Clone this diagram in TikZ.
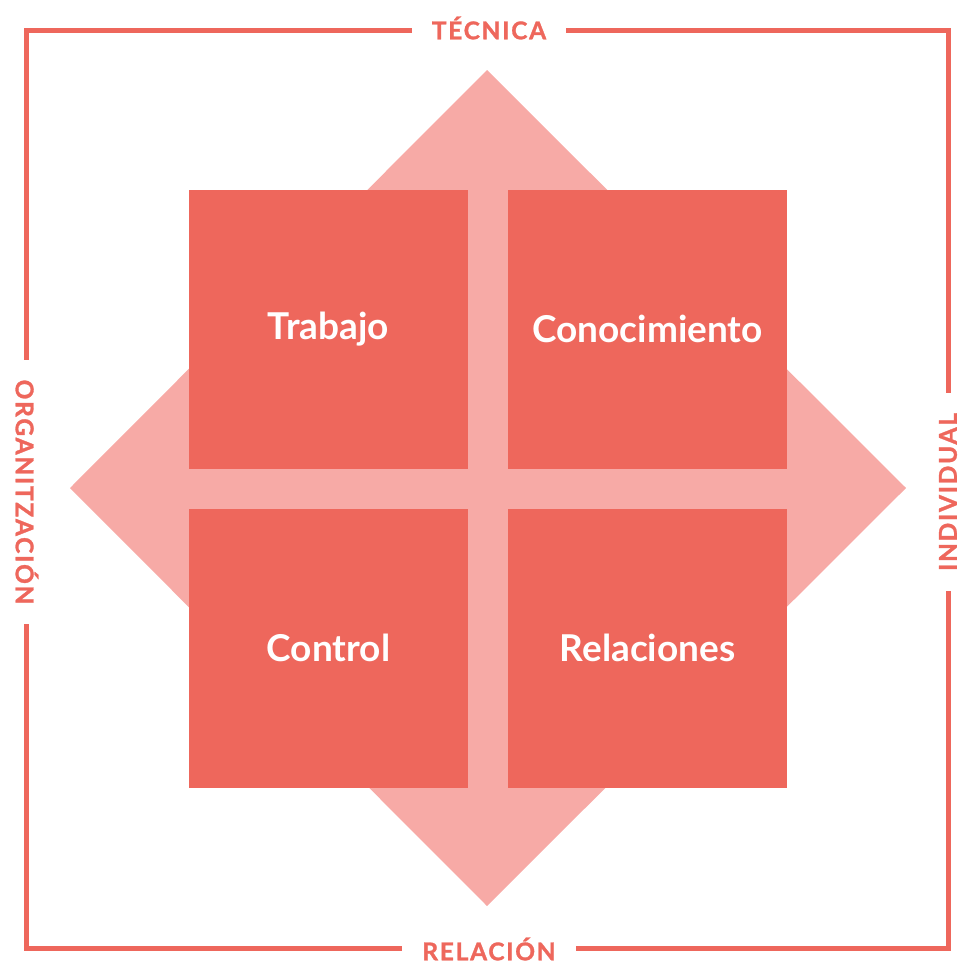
\documentclass[tikz,border=0pt]{standalone}
\usepackage{fontspec}
\setmainfont{Lato}
\newfontfamily\labfont[LetterSpace=7, FakeBold=1.2]{Lato}
\definecolor{boxred}{HTML}{EE675C}
\definecolor{diapink}{HTML}{F7AAA6}
\begin{document}
\begin{tikzpicture}[x=1pt,y=-1pt,
  sq/.style={fill=boxred, draw=none, minimum width=279pt, minimum height=279pt, inner sep=0pt,
     text=white, font=\fontsize{37}{37}\selectfont\bfseries},
  lab/.style={fill=white, text=boxred, inner xsep=20pt, inner ysep=2pt, font=\labfont\fontsize{24.5}{24.5}\selectfont\bfseries},
  frame/.style={draw=boxred, line width=5pt}]
\useasboundingbox (0,0) rectangle (961,964);
\fill[diapink] (487,70) -- (906,488) -- (487,906) -- (70,488) -- cycle;
\node[sq] (trabajo) at (328.5,329) {Trabajo};
\node[sq] (conoc) at (647.5,329) {Conocimiento};
\node[sq] (control) at (328.5,648) {Control};
\node[sq] (relac) at (647.5,648) {Relaciones};
\coordinate (tl) at (26.5,30.5);
\coordinate (br) at (948.5,948.5);
\draw[frame] (tl) rectangle (br);
\node[lab] (tec) at (489,28) {TÉCNICA};
\node[lab] (rel) at (489,949) {RELACIÓN};
\node[lab, rotate=-90] (org) at (27,492) {ORGANITZACIÓN};
\node[lab, rotate=90] (ind) at (948,492) {INDIVIDUAL};
\end{tikzpicture}
\end{document}
